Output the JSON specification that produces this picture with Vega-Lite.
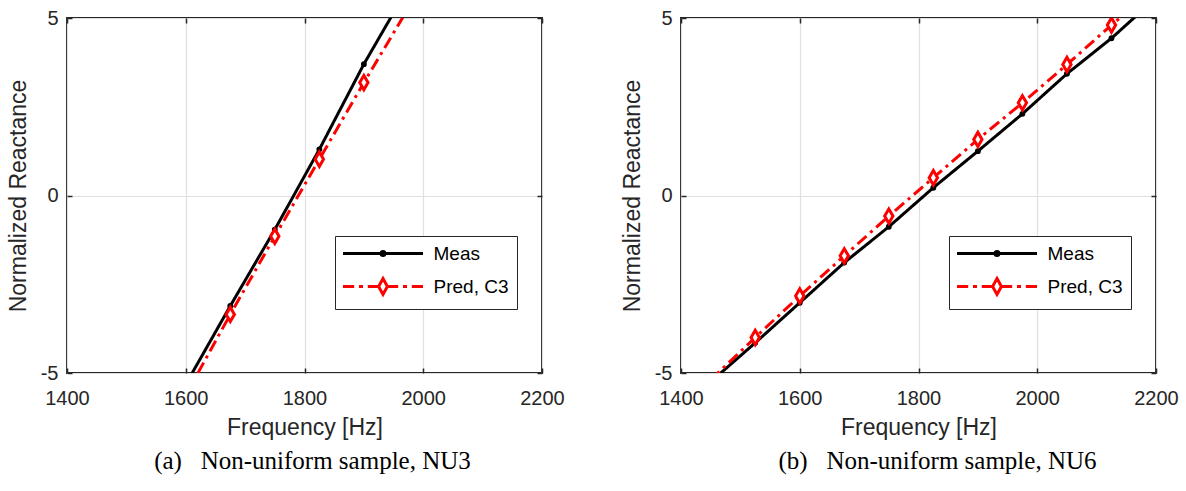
{
  "$schema": "https://vega.github.io/schema/vega-lite/v6.json",
  "padding": {"left": 6, "top": 7, "right": 5, "bottom": 5},
  "background": "#ffffff",
  "datasets": {
    "a": [
      {"f": 1600, "v": -5.32, "s": "Meas"},
      {"f": 1675, "v": -3.11, "s": "Meas"},
      {"f": 1750, "v": -0.96, "s": "Meas"},
      {"f": 1825, "v": 1.30, "s": "Meas"},
      {"f": 1900, "v": 3.70, "s": "Meas"},
      {"f": 1975, "v": 5.87, "s": "Meas"},
      {"f": 1600, "v": -5.62, "s": "Pred, C3"},
      {"f": 1675, "v": -3.35, "s": "Pred, C3"},
      {"f": 1750, "v": -1.15, "s": "Pred, C3"},
      {"f": 1825, "v": 1.02, "s": "Pred, C3"},
      {"f": 1900, "v": 3.18, "s": "Pred, C3"},
      {"f": 1975, "v": 5.28, "s": "Pred, C3"}
    ],
    "b": [
      {"f": 1450, "v": -5.25, "s": "Meas"},
      {"f": 1525, "v": -4.15, "s": "Meas"},
      {"f": 1600, "v": -3.02, "s": "Meas"},
      {"f": 1675, "v": -1.89, "s": "Meas"},
      {"f": 1750, "v": -0.88, "s": "Meas"},
      {"f": 1825, "v": 0.22, "s": "Meas"},
      {"f": 1900, "v": 1.25, "s": "Meas"},
      {"f": 1975, "v": 2.30, "s": "Meas"},
      {"f": 2050, "v": 3.43, "s": "Meas"},
      {"f": 2125, "v": 4.43, "s": "Meas"},
      {"f": 2200, "v": 5.56, "s": "Meas"},
      {"f": 1450, "v": -5.19, "s": "Pred, C3"},
      {"f": 1525, "v": -4.00, "s": "Pred, C3"},
      {"f": 1600, "v": -2.83, "s": "Pred, C3"},
      {"f": 1675, "v": -1.70, "s": "Pred, C3"},
      {"f": 1750, "v": -0.58, "s": "Pred, C3"},
      {"f": 1825, "v": 0.50, "s": "Pred, C3"},
      {"f": 1900, "v": 1.58, "s": "Pred, C3"},
      {"f": 1975, "v": 2.61, "s": "Pred, C3"},
      {"f": 2050, "v": 3.69, "s": "Pred, C3"},
      {"f": 2125, "v": 4.80, "s": "Pred, C3"},
      {"f": 2200, "v": 5.87, "s": "Pred, C3"}
    ]
  },
  "config": {
    "font": "Liberation Sans",
    "view": {"stroke": "#262626", "strokeWidth": 2},
    "axis": {
      "labelFont": "Liberation Sans",
      "labelFontSize": 20,
      "labelColor": "#262626",
      "titleFont": "Liberation Sans",
      "titleFontSize": 23,
      "titleFontWeight": "normal",
      "titleColor": "#262626",
      "domain": false,
      "ticks": true,
      "tickColor": "#262626",
      "tickWidth": 1.5,
      "tickSize": -5,
      "gridColor": "#e0e0e0",
      "gridWidth": 1.2,
      "gridOpacity": 1,
      "labelFlush": false,
      "labelOverlap": false
    },
    "legend": {
      "orient": "none", "title": null, "direction": "vertical",
      "padding": 8, "rowPadding": 8, "labelFont": "Liberation Sans", "labelFontSize": 19, "labelColor": "#000000",
      "labelOffset": 41, "symbolOffset": 30.5, "strokeColor": "#262626", "fillColor": "#ffffff", "cornerRadius": 0,
      "symbolStrokeWidth": 3, "symbolSize": 256, "symbolOpacity": 1
    }
  },
  "resolve": {
    "scale": {"shape": "independent", "stroke": "independent", "fill": "independent", "strokeDash": "independent", "color": "independent"},
    "legend": {"shape": "independent", "stroke": "independent", "fill": "independent", "strokeDash": "independent", "color": "independent"}
  },
  "spacing": 54,
  "hconcat": [
    {
      "width": 475,
      "height": 355,
      "data": {"name": "a"},
      "title": {"text": "(a)\u00a0\u00a0\u00a0Non-uniform sample, NU3", "orient": "bottom", "anchor": "middle", "frame": "group", "dx": 8, "offset": 10, "font": "Liberation Serif", "fontSize": 25, "fontWeight": "normal", "color": "#000000"},
      "resolve": {"axis": {"x": "independent", "y": "independent"}, "scale": {"shape": "independent", "color": "independent"}},
      "layer": [
        {
          "mark": {"type": "line", "clip": true, "strokeWidth": 3},
          "encoding": {
            "x": {"field": "f", "type": "quantitative", "scale": {"domain": [1400, 2200], "nice": false, "zero": false},
                  "axis": {"values": [1400, 1600, 1800, 2000, 2200], "format": "d", "title": "Frequency [Hz]", "labelPadding": 20, "titlePadding": 8, "grid": true}},
            "y": {"field": "v", "type": "quantitative", "scale": {"domain": [-5, 5], "nice": false, "zero": false},
                  "axis": {"values": [-5, 0, 5], "labelExpr": "datum.value < 0 ? '-' + abs(datum.value) : '' + datum.value", "title": "Normalized Reactance", "labelPadding": 14, "titlePadding": 10, "grid": true}},
            "stroke": {"field": "s", "type": "nominal", "scale": {"range": ["#000000", "#ff0000"]}, "legend": null},
            "strokeDash": {"field": "s", "type": "nominal", "scale": {"range": [[1, 0], [12, 5, 3, 5]]}, "legend": null}
          }
        },
        {
          "transform": [{"filter": "datum.v >= -5 && datum.v <= 5 && datum.f >= 1400 && datum.f <= 2200"}],
          "mark": {"type": "point", "clip": true, "strokeWidth": 3, "size": 256, "opacity": 1},
          "encoding": {
            "x": {"field": "f", "type": "quantitative", "axis": {"orient": "top", "values": [1400, 1600, 1800, 2000, 2200], "labels": false, "grid": false, "title": null}},
            "y": {"field": "v", "type": "quantitative", "axis": {"orient": "right", "values": [-5, 0, 5], "labels": false, "grid": false, "title": null}},
            "stroke": {"field": "s", "type": "nominal", "legend": null},
            "fill": {"field": "s", "type": "nominal", "scale": {"range": ["#000000", "#ffffff"]}, "legend": null},
            "shape": {"field": "s", "type": "nominal", "legend": null,
              "scale": {"domain": ["Meas", "Pred, C3"], "range": ["M-0.18,0A0.18,0.18 0 1,0 0.18,0A0.18,0.18 0 1,0 -0.18,0Z", "M0,-0.9L0.52,0L0,0.9L-0.52,0Z"]}}
          }
        },
        {
          "transform": [{"filter": "datum.v > 1000"}],
          "mark": {"type": "point", "filled": false, "strokeWidth": 3, "opacity": 1},
          "encoding": {
            "x": {"field": "f", "type": "quantitative", "axis": null},
            "y": {"field": "v", "type": "quantitative", "axis": null},
            "color": {"field": "s", "type": "nominal", "scale": {"domain": ["Meas", "Pred, C3"], "range": ["#000000", "#ff0000"]},
              "legend": {"orient": "none", "legendX": 268, "legendY": 218, "title": null}},
            "shape": {"field": "s", "type": "nominal",
              "scale": {"domain": ["Meas", "Pred, C3"], "range": ["M-5,0H5M-0.25,0A0.25,0.25 0 1,0 0.25,0A0.25,0.25 0 1,0 -0.25,0Z", "M-5,0H-3.6M-3,0H-2.5M-1.9,0H-0.6M0.6,0H1.9M2.5,0H3M3.6,0H5M0,-1L0.55,0L0,1L-0.55,0Z"]},
              "legend": {"orient": "none", "legendX": 268, "legendY": 218, "title": null}}
          }
        }
      ]
    },
    {
      "width": 475,
      "height": 355,
      "data": {"name": "b"},
      "title": {"text": "(b)\u00a0\u00a0\u00a0Non-uniform sample, NU6", "orient": "bottom", "anchor": "middle", "frame": "group", "dx": 19, "offset": 10, "font": "Liberation Serif", "fontSize": 25, "fontWeight": "normal", "color": "#000000"},
      "resolve": {"axis": {"x": "independent", "y": "independent"}, "scale": {"shape": "independent", "color": "independent"}},
      "layer": [
        {
          "mark": {"type": "line", "clip": true, "strokeWidth": 3},
          "encoding": {
            "x": {"field": "f", "type": "quantitative", "scale": {"domain": [1400, 2200], "nice": false, "zero": false},
                  "axis": {"values": [1400, 1600, 1800, 2000, 2200], "format": "d", "title": "Frequency [Hz]", "labelPadding": 20, "titlePadding": 8, "grid": true}},
            "y": {"field": "v", "type": "quantitative", "scale": {"domain": [-5, 5], "nice": false, "zero": false},
                  "axis": {"values": [-5, 0, 5], "labelExpr": "datum.value < 0 ? '-' + abs(datum.value) : '' + datum.value", "title": "Normalized Reactance", "labelPadding": 14, "titlePadding": 10, "grid": true}},
            "stroke": {"field": "s", "type": "nominal", "scale": {"range": ["#000000", "#ff0000"]}, "legend": null},
            "strokeDash": {"field": "s", "type": "nominal", "scale": {"range": [[1, 0], [12, 5, 3, 5]]}, "legend": null}
          }
        },
        {
          "transform": [{"filter": "datum.v >= -5 && datum.v <= 5 && datum.f >= 1400 && datum.f <= 2200"}],
          "mark": {"type": "point", "clip": true, "strokeWidth": 3, "size": 256, "opacity": 1},
          "encoding": {
            "x": {"field": "f", "type": "quantitative", "axis": {"orient": "top", "values": [1400, 1600, 1800, 2000, 2200], "labels": false, "grid": false, "title": null}},
            "y": {"field": "v", "type": "quantitative", "axis": {"orient": "right", "values": [-5, 0, 5], "labels": false, "grid": false, "title": null}},
            "stroke": {"field": "s", "type": "nominal", "legend": null},
            "fill": {"field": "s", "type": "nominal", "scale": {"range": ["#000000", "#ffffff"]}, "legend": null},
            "shape": {"field": "s", "type": "nominal", "legend": null,
              "scale": {"domain": ["Meas", "Pred, C3"], "range": ["M-0.18,0A0.18,0.18 0 1,0 0.18,0A0.18,0.18 0 1,0 -0.18,0Z", "M0,-0.9L0.52,0L0,0.9L-0.52,0Z"]}}
          }
        },
        {
          "transform": [{"filter": "datum.v > 1000"}],
          "mark": {"type": "point", "filled": false, "strokeWidth": 3, "opacity": 1},
          "encoding": {
            "x": {"field": "f", "type": "quantitative", "axis": null},
            "y": {"field": "v", "type": "quantitative", "axis": null},
            "color": {"field": "s", "type": "nominal", "scale": {"domain": ["Meas", "Pred, C3"], "range": ["#000000", "#ff0000"]},
              "legend": {"orient": "none", "legendX": 268, "legendY": 218, "title": null}},
            "shape": {"field": "s", "type": "nominal",
              "scale": {"domain": ["Meas", "Pred, C3"], "range": ["M-5,0H5M-0.25,0A0.25,0.25 0 1,0 0.25,0A0.25,0.25 0 1,0 -0.25,0Z", "M-5,0H-3.6M-3,0H-2.5M-1.9,0H-0.6M0.6,0H1.9M2.5,0H3M3.6,0H5M0,-1L0.55,0L0,1L-0.55,0Z"]},
              "legend": {"orient": "none", "legendX": 268, "legendY": 218, "title": null}}
          }
        }
      ]
    }
  ]
}
